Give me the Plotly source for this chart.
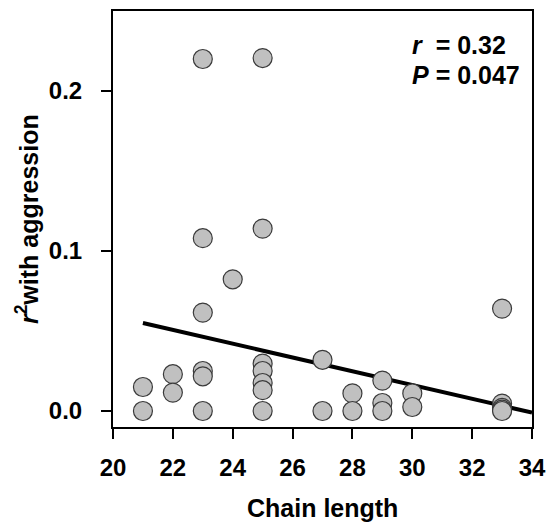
import plotly.graph_objects as go

# ---- data ----
chain_length = [21, 21, 22, 22, 23, 23, 23, 23, 23, 23, 24,
                25, 25, 25, 25, 25, 25, 25, 27, 27, 28, 28,
                29, 29, 29, 30, 30, 33, 33, 33, 33, 33]
r2_aggression = [0.015, 0.0, 0.023, 0.0115, 0.220, 0.108, 0.0615, 0.025, 0.0217, 0.0, 0.0823,
                 0.2206, 0.114, 0.0296, 0.025, 0.0175, 0.013, 0.0, 0.032, 0.0, 0.011, 0.0,
                 0.019, 0.005, 0.0, 0.011, 0.0025, 0.064, 0.0046, 0.002, 0.0008, 0.0]
fit_x = [21, 34]
fit_y = [0.055, -0.001]
x_ticks = [20, 22, 24, 26, 28, 30, 32, 34]
y_ticks = [0.0, 0.1, 0.2]

FONT = "Liberation Sans, Arial, sans-serif"

fig = go.Figure()
fig.add_trace(go.Scatter(x=fit_x, y=fit_y, mode="lines",
                         line=dict(color="black", width=4), showlegend=False))
fig.add_trace(go.Scatter(x=chain_length, y=r2_aggression, mode="markers",
                         marker=dict(size=19, color="#c0c0c0",
                                     line=dict(color="#3a3a3a", width=1.2)),
                         showlegend=False))

axis_common = dict(showline=True, linecolor="black", linewidth=2, mirror=True,
                   ticks="outside", ticklen=10, tickwidth=2, tickcolor="black",
                   showgrid=False, zeroline=False, automargin=False,
                   tickfont=dict(family=FONT, size=24, color="black", weight="bold"))

fig.update_xaxes(range=[20, 34], tickvals=x_ticks, ticklabelstandoff=8, **axis_common)
fig.update_yaxes(range=[-0.01, 0.25], tickvals=y_ticks, tickformat=".1f",
                 ticklabelstandoff=14, **axis_common)

ann_font = dict(family=FONT, size=25, color="black", weight="bold")
fig.add_annotation(text="Chain length", xref="paper", yref="paper", x=0.5, y=-0.195,
                   xanchor="center", yanchor="middle", showarrow=False, font=ann_font)
fig.add_annotation(text="<i>r</i><sup>2</sup>with aggression", xref="paper", yref="paper",
                   x=-0.205, y=0.5, textangle=-90, xanchor="center", yanchor="middle",
                   showarrow=False, font=ann_font)
fig.add_annotation(text="<i>r</i>&nbsp;&nbsp;= 0.32", xref="paper", yref="paper",
                   x=0.709, y=0.918, xanchor="left", yanchor="middle",
                   showarrow=False, font=ann_font)
fig.add_annotation(text="<i>P</i> = 0.047", xref="paper", yref="paper",
                   x=0.709, y=0.846, xanchor="left", yanchor="middle",
                   showarrow=False, font=ann_font)

fig.update_layout(width=548, height=522, margin=dict(l=113, r=16, t=11, b=95),
                  paper_bgcolor="white", plot_bgcolor="white")

fig.write_html("out.html", config={"displayModeBar": False},
               post_script="document.body.style.margin='0';document.body.style.overflow='hidden';")
